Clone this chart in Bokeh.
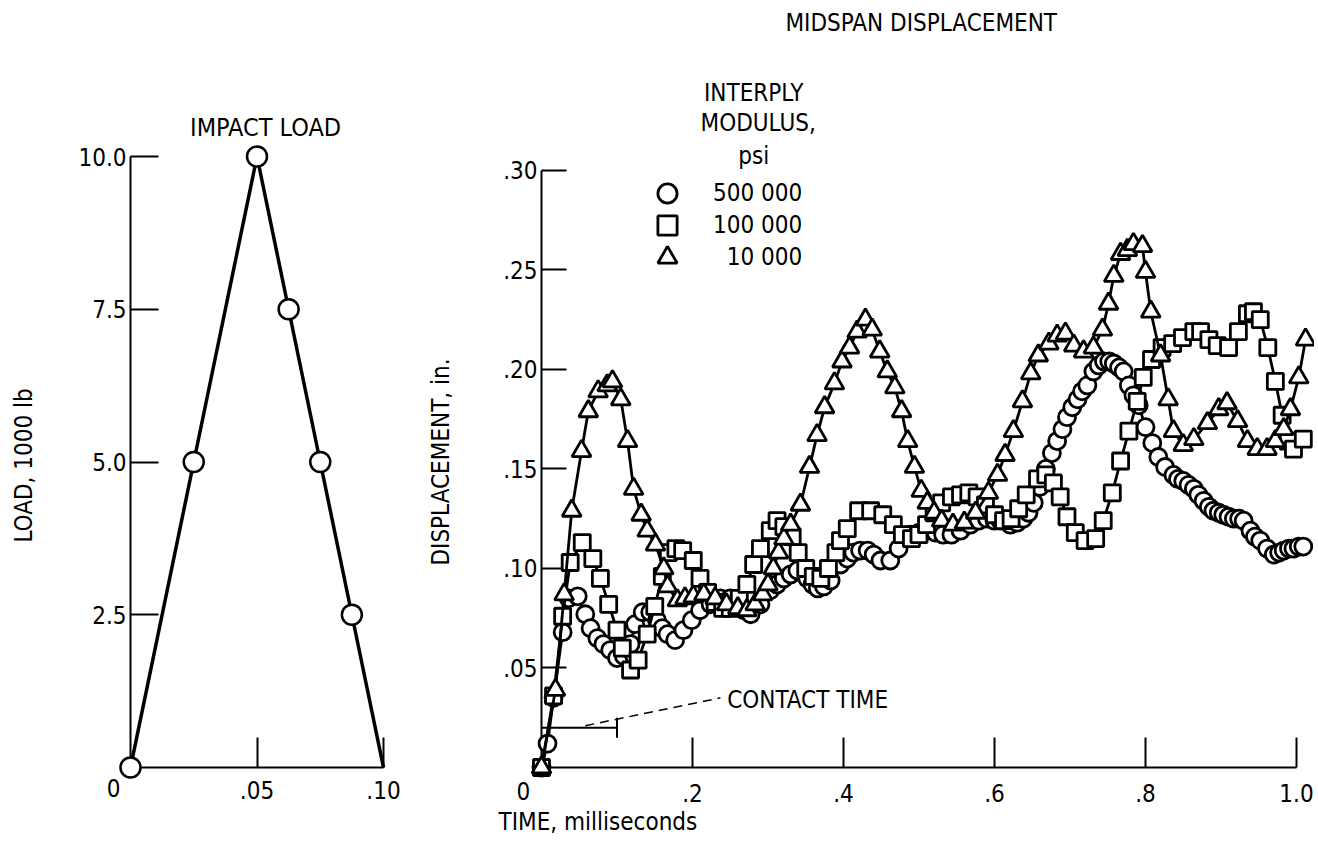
from bokeh.plotting import figure
from bokeh.layouts import row
from bokeh.models import FixedTicker, Legend, LegendItem, ColumnDataSource
from bokeh.core.properties import value
from bokeh.embed import file_html
from bokeh.resources import INLINE

FONT = "DejaVu Sans Condensed, DejaVu Sans"
FS = "24px"

# ---------------- data: impact load ----------------
load_time = [0.0, 0.025, 0.05, 0.0625, 0.075, 0.0875]
load_value = [0.0, 5.0, 10.0, 7.5, 5.0, 2.5]
load_end_time = 0.10
load_end_value = 0.0

# ---------------- data: midspan displacement ----------------
t_500k = [0.000, 0.008, 0.016, 0.028, 0.036, 0.048, 0.058, 0.065, 0.074, 0.082, 0.091, 0.100,
          0.109, 0.118, 0.124, 0.134, 0.144, 0.153, 0.160, 0.167, 0.177, 0.188, 0.199, 0.210,
          0.224, 0.237, 0.250, 0.259, 0.268, 0.277, 0.290, 0.303, 0.312, 0.321, 0.330, 0.339,
          0.352, 0.359, 0.366, 0.374, 0.383, 0.396, 0.405, 0.413, 0.422, 0.432, 0.440, 0.449,
          0.462, 0.473, 0.489, 0.500, 0.511, 0.522, 0.532, 0.543, 0.555, 0.568, 0.579, 0.590,
          0.600, 0.608, 0.621, 0.630, 0.638, 0.645, 0.652, 0.660, 0.668, 0.676, 0.683, 0.690,
          0.696, 0.703, 0.710, 0.716, 0.723, 0.731, 0.738, 0.745, 0.752, 0.758, 0.765, 0.771,
          0.778, 0.784, 0.791, 0.800, 0.809, 0.817, 0.826, 0.837, 0.843, 0.850, 0.857, 0.864,
          0.870, 0.877, 0.884, 0.890, 0.897, 0.903, 0.910, 0.917, 0.924, 0.930, 0.939, 0.945,
          0.952, 0.961, 0.970, 0.977, 0.983, 0.990, 0.996, 1.003, 1.009]
d_500k = [0.000, 0.012, 0.035, 0.068, 0.085, 0.086, 0.077, 0.070, 0.065, 0.062, 0.059, 0.055,
          0.056, 0.062, 0.072, 0.078, 0.078, 0.074, 0.070, 0.067, 0.064, 0.069, 0.074, 0.079,
          0.082, 0.085, 0.085, 0.082, 0.079, 0.077, 0.082, 0.089, 0.092, 0.095, 0.097, 0.099,
          0.095, 0.092, 0.090, 0.091, 0.094, 0.102, 0.105, 0.108, 0.109, 0.109, 0.107, 0.104,
          0.104, 0.110, 0.117, 0.118, 0.119, 0.118, 0.117, 0.117, 0.119, 0.122, 0.124, 0.125,
          0.124, 0.124, 0.122, 0.123, 0.125, 0.128, 0.133, 0.141, 0.150, 0.158, 0.164, 0.170,
          0.176, 0.181, 0.185, 0.189, 0.192, 0.199, 0.202, 0.204, 0.204, 0.203, 0.201, 0.199,
          0.192, 0.187, 0.182, 0.171, 0.163, 0.156, 0.151, 0.147, 0.145, 0.144, 0.142, 0.140,
          0.137, 0.134, 0.131, 0.129, 0.128, 0.127, 0.126, 0.125, 0.125, 0.124, 0.119, 0.116,
          0.114, 0.110, 0.107, 0.108, 0.109, 0.110, 0.110, 0.111, 0.111]

t_100k = [0.000, 0.016, 0.028, 0.038, 0.054, 0.068, 0.078, 0.089, 0.100, 0.107, 0.118, 0.128,
          0.140, 0.150, 0.160, 0.168, 0.178, 0.187, 0.201, 0.210, 0.220, 0.230, 0.240, 0.250,
          0.262, 0.272, 0.281, 0.290, 0.303, 0.312, 0.321, 0.332, 0.340, 0.350, 0.360, 0.370,
          0.380, 0.390, 0.396, 0.405, 0.420, 0.436, 0.452, 0.466, 0.478, 0.490, 0.500, 0.510,
          0.520, 0.530, 0.543, 0.555, 0.566, 0.577, 0.588, 0.600, 0.612, 0.622, 0.632, 0.642,
          0.657, 0.668, 0.678, 0.687, 0.696, 0.707, 0.720, 0.734, 0.744, 0.756, 0.767, 0.778,
          0.789, 0.797, 0.808, 0.822, 0.836, 0.849, 0.864, 0.873, 0.884, 0.895, 0.910, 0.923,
          0.935, 0.943, 0.952, 0.962, 0.972, 0.981, 0.989, 0.996, 1.009]
d_100k = [0.000, 0.036, 0.076, 0.103, 0.113, 0.105, 0.095, 0.082, 0.069, 0.060, 0.049, 0.054,
          0.067, 0.081, 0.096, 0.108, 0.110, 0.109, 0.104, 0.095, 0.088, 0.083, 0.080, 0.080,
          0.085, 0.092, 0.102, 0.110, 0.119, 0.124, 0.121, 0.116, 0.108, 0.100, 0.096, 0.095,
          0.100, 0.108, 0.114, 0.120, 0.129, 0.129, 0.127, 0.122, 0.117, 0.115, 0.117, 0.122,
          0.128, 0.133, 0.136, 0.137, 0.138, 0.136, 0.132, 0.127, 0.124, 0.125, 0.130, 0.137,
          0.145, 0.147, 0.143, 0.136, 0.126, 0.118, 0.114, 0.115, 0.124, 0.138, 0.154, 0.169,
          0.184, 0.196, 0.205, 0.211, 0.213, 0.216, 0.219, 0.219, 0.215, 0.212, 0.211, 0.219,
          0.228, 0.229, 0.225, 0.211, 0.194, 0.177, 0.164, 0.160, 0.165]

t_10k = [0.000, 0.0185, 0.030, 0.040, 0.053, 0.062, 0.075, 0.087, 0.094, 0.105, 0.114, 0.122,
         0.132, 0.140, 0.151, 0.162, 0.167, 0.180, 0.190, 0.201, 0.215, 0.230, 0.245, 0.260,
         0.272, 0.283, 0.293, 0.300, 0.307, 0.314, 0.321, 0.330, 0.343, 0.355, 0.365, 0.375,
         0.388, 0.398, 0.408, 0.418, 0.429, 0.438, 0.448, 0.458, 0.468, 0.477, 0.485, 0.494,
         0.503, 0.511, 0.520, 0.530, 0.545, 0.560, 0.575, 0.592, 0.604, 0.614, 0.625, 0.637,
         0.648, 0.658, 0.672, 0.683, 0.694, 0.705, 0.718, 0.731, 0.743, 0.751, 0.758, 0.767,
         0.776, 0.784, 0.796, 0.800, 0.807, 0.820, 0.830, 0.837, 0.850, 0.864, 0.882, 0.897,
         0.908, 0.922, 0.935, 0.948, 0.961, 0.972, 0.983, 0.992, 1.003, 1.012]
d_10k = [0.000, 0.039, 0.087, 0.129, 0.159, 0.179, 0.189, 0.192, 0.194, 0.185, 0.164, 0.140,
         0.127, 0.119, 0.112, 0.100, 0.091, 0.084, 0.085, 0.086, 0.087, 0.085, 0.082, 0.080,
         0.079, 0.082, 0.087, 0.092, 0.100, 0.108, 0.115, 0.122, 0.132, 0.151, 0.167, 0.181,
         0.193, 0.204, 0.211, 0.219, 0.225, 0.220, 0.209, 0.199, 0.191, 0.179, 0.164, 0.151,
         0.139, 0.133, 0.128, 0.124, 0.122, 0.123, 0.128, 0.138, 0.147, 0.157, 0.169, 0.184,
         0.198, 0.207, 0.213, 0.217, 0.218, 0.212, 0.209, 0.211, 0.220, 0.233, 0.247, 0.258,
         0.260, 0.263, 0.262, 0.249, 0.229, 0.207, 0.185, 0.169, 0.162, 0.165, 0.173, 0.180,
         0.183, 0.174, 0.164, 0.160, 0.160, 0.164, 0.170, 0.180, 0.196, 0.215]

series_labels = ["500 000", "100 000", "\u200710 000"]
contact_time = 0.10
contact_level = 0.02

x_ticks_disp = [0.2, 0.4, 0.6, 0.8, 1.0]
x_tick_labels_disp = [".2", ".4", ".6", ".8", "1.0"]
y_ticks_disp = [0.05, 0.10, 0.15, 0.20, 0.25, 0.30]
y_tick_labels_disp = [".05", ".10", ".15", ".20", ".25", ".30"]
x_ticks_load = [0.05, 0.10]
x_tick_labels_load = [".05", ".10"]
y_ticks_load = [2.5, 5.0, 7.5, 10.0]
y_tick_labels_load = ["2.5", "5.0", "7.5", "10.0"]


def style_axes(p, xt, xl, yt, yl, x_in, y_in, x_standoff, y_standoff):
    p.outline_line_color = None
    p.grid.visible = False
    p.xaxis.ticker = FixedTicker(ticks=xt)
    p.xaxis.major_label_overrides = {k: v for k, v in zip(xt, xl)}
    p.yaxis.ticker = FixedTicker(ticks=yt)
    p.yaxis.major_label_overrides = {k: v for k, v in zip(yt, yl)}
    for ax in (p.xaxis[0], p.yaxis[0]):
        ax.axis_line_width = 2
        ax.axis_line_color = "black"
        ax.major_tick_line_width = 2
        ax.major_tick_line_color = "black"
        ax.major_tick_out = 0
        ax.minor_tick_line_color = None
        ax.major_label_text_font = FONT
        ax.major_label_text_font_size = FS
        ax.major_label_text_color = "black"
        ax.axis_label_text_font = FONT
        ax.axis_label_text_font_size = FS
        ax.axis_label_text_font_style = "normal"
        ax.axis_label_text_color = "black"
    p.xaxis.major_tick_in = x_in
    p.yaxis.major_tick_in = y_in
    p.xaxis.major_label_standoff = x_standoff
    p.yaxis.major_label_standoff = y_standoff


def text(p, x, y, s, align="center", size=FS):
    r = p.text(x=[x], y=[y], text=[s], text_font=value(FONT), text_font_size=size,
               text_color="black", text_align=align, text_baseline="middle")
    r.level = "overlay"


# ---------------- left: impact load ----------------
pl = figure(width=420, height=838, x_range=(0, 0.1), y_range=(0, 10.0),
            output_backend="svg", toolbar_location=None,
            min_border_left=130, min_border_right=37, min_border_top=156, min_border_bottom=71)
style_axes(pl, x_ticks_load, x_tick_labels_load, y_ticks_load, y_tick_labels_load, 30, 28, 13, 4)
pl.yaxis.axis_label = "LOAD,  1000 lb"
pl.yaxis.axis_label_standoff = 37

lsrc = ColumnDataSource(dict(t=load_time + [load_end_time], v=load_value + [load_end_value]))
msrc = ColumnDataSource(dict(t=load_time, v=load_value))
r1 = pl.line("t", "v", source=lsrc, line_width=3.5, line_color="black")
r2 = pl.scatter("t", "v", source=msrc, marker="circle", size=20, line_width=2.5,
                line_color="black", fill_color="white")
for r in (r1, r2):
    r.level = "overlay"
text(pl, 0.0534, 10.47, "IMPACT LOAD", size="25px")
text(pl, -0.0067, -0.33, "0")

# ---------------- right: midspan displacement ----------------
pr = figure(width=894, height=838, x_range=(0, 1.0), y_range=(0, 0.307),
            output_backend="svg", toolbar_location=None,
            min_border_left=121, min_border_right=18, min_border_top=156, min_border_bottom=71)
style_axes(pr, x_ticks_disp, x_tick_labels_disp, y_ticks_disp, y_tick_labels_disp, 30, 25, 16, 4)
pr.yaxis.bounds = (0, 0.30)
pr.yaxis.axis_label = "DISPLACEMENT, in."
pr.yaxis.axis_label_standoff = 45

markers = ["circle", "square", "triangle"]
sizes = [17, 16, 19]
data = [(t_500k, d_500k), (t_100k, d_100k), (t_10k, d_10k)]
row_centers = [193, 225, 257]
for (tt, dd), mk, sz, lab, yc in zip(data, markers, sizes, series_labels, row_centers):
    src = ColumnDataSource(dict(t=tt, d=dd))
    rl = pr.line("t", "d", source=src, line_width=2.8, line_color="black")
    rs = pr.scatter("t", "d", source=src, marker=mk, size=sz, line_width=2.8,
                    line_color="black", fill_color="white")
    rl.level = "overlay"
    rs.level = "overlay"
    lg = Legend(items=[LegendItem(label=lab, renderers=[rs])], location=(102, 767 - yc - 24),
                glyph_width=48, glyph_height=48, label_height=48, spacing=0,
                padding=0, margin=0, label_standoff=22,
                background_fill_alpha=0, border_line_color=None,
                label_text_font=FONT, label_text_font_size=FS, label_text_color="black")
    pr.add_layout(lg)

text(pr, 0.281, 0.339, "INTERPLY")
text(pr, 0.287, 0.324, "MODULUS,")
text(pr, 0.281, 0.3075, "psi")
text(pr, 0.503, 0.374, "MIDSPAN DISPLACEMENT")
text(pr, -0.057, -0.0276, "TIME, milliseconds", align="left")
text(pr, -0.024, -0.0116, "0")

# contact-time marker
pr.segment(x0=[0.0], y0=[contact_level], x1=[contact_time], y1=[contact_level],
           line_width=2, line_color="black")
pr.segment(x0=[contact_time], y0=[contact_level - 0.005], x1=[contact_time],
           y1=[contact_level + 0.005], line_width=2, line_color="black")
pr.segment(x0=[0.058], y0=[0.021], x1=[0.237], y1=[0.035], line_width=1.5,
           line_color="black", line_dash="9 6")
text(pr, 0.246, 0.034, "CONTACT TIME", align="left")

layout = row(pl, pr)
open("out.html", "w").write(file_html(layout, INLINE))
